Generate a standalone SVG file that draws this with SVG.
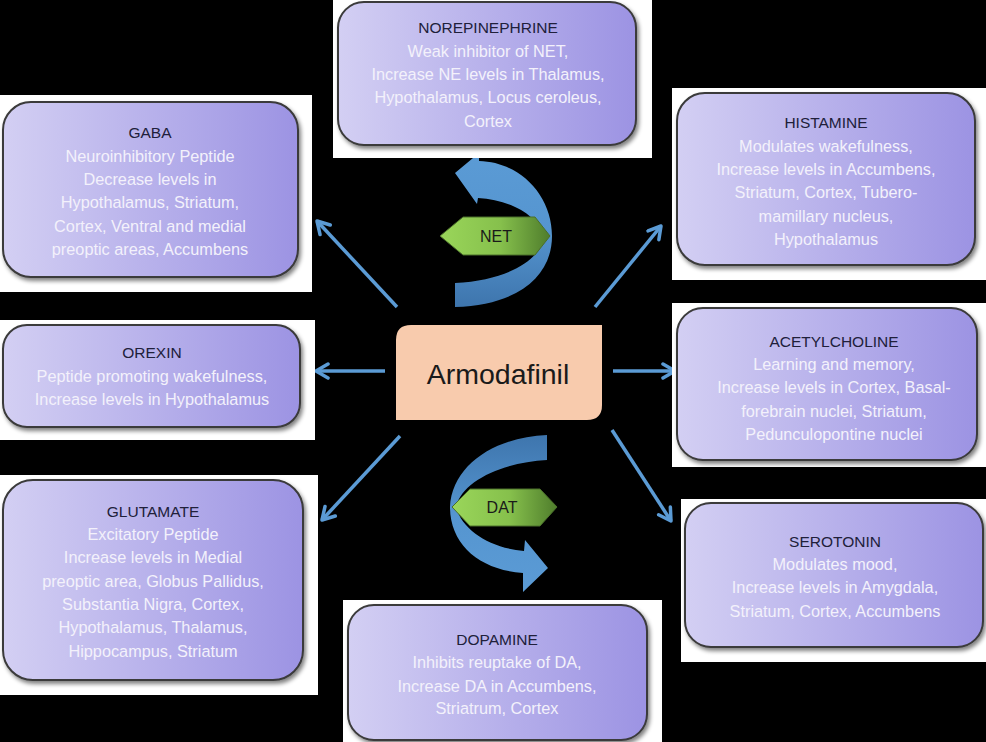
<svg xmlns="http://www.w3.org/2000/svg" width="986" height="742" viewBox="0 0 986 742">
<defs>
<style>
.bg{fill:#ffffff}
.box{fill:url(#boxg);stroke:#3a3a3a;stroke-width:2;filter:url(#sh)}
.t{font-family:"Liberation Sans",Arial,sans-serif;font-size:15.5px;fill:#20203a;text-anchor:middle}
.b{font-family:"Liberation Sans",Arial,sans-serif;font-size:16.3px;fill:#f3f1fb;text-anchor:middle}
.con{stroke:#5b9bd5;stroke-width:3.5;fill:none;marker-end:url(#ah)}
.tag{fill:url(#greeng);stroke:#4a6e2a;stroke-width:1}
.tagt{font-family:"Liberation Sans",Arial,sans-serif;font-size:16px;fill:#1a1a1a;text-anchor:middle}
</style>
<linearGradient id="boxg" x1="0" y1="0" x2="1" y2="0">
<stop offset="0" stop-color="#d3cff3"/>
<stop offset="1" stop-color="#9c93e3"/>
</linearGradient>
<linearGradient id="greeng" x1="0" y1="0" x2="1" y2="0">
<stop offset="0" stop-color="#9ad65a"/>
<stop offset="0.55" stop-color="#86c04c"/>
<stop offset="1" stop-color="#4f7d2c"/>
</linearGradient>
<linearGradient id="netg" x1="0" y1="0" x2="0" y2="1">
<stop offset="0" stop-color="#5b9bd5"/>
<stop offset="0.5" stop-color="#5595d0"/>
<stop offset="1" stop-color="#3e75ad"/>
</linearGradient>
<linearGradient id="datg" x1="0" y1="0" x2="0" y2="1">
<stop offset="0" stop-color="#3e75ad"/>
<stop offset="0.5" stop-color="#5595d0"/>
<stop offset="1" stop-color="#5b9bd5"/>
</linearGradient>
<filter id="sh" x="-5%" y="-5%" width="112%" height="118%">
<feGaussianBlur in="SourceAlpha" stdDeviation="2"/>
<feOffset dx="2" dy="3" result="o"/>
<feComponentTransfer><feFuncA type="linear" slope="0.5"/></feComponentTransfer>
<feMerge><feMergeNode/><feMergeNode in="SourceGraphic"/></feMerge>
</filter>
<marker id="ah" viewBox="0 0 18 18" refX="15" refY="9" markerWidth="18" markerHeight="18" markerUnits="userSpaceOnUse" orient="auto">
<path d="M3,2 L15,9 L3,16" fill="none" stroke="#5b9bd5" stroke-width="3.5" stroke-linecap="round" stroke-linejoin="round"/>
</marker>
</defs>
<rect x="0" y="0" width="986" height="742" fill="#000000"/>

<g id="connectors">
<line class="con" x1="397" y1="307" x2="317" y2="221"/>
<line class="con" x1="385" y1="371" x2="316" y2="371"/>
<line class="con" x1="400" y1="436" x2="322" y2="520"/>
<line class="con" x1="595" y1="307" x2="661" y2="226"/>
<line class="con" x1="613" y1="371" x2="675" y2="371"/>
<line class="con" x1="612" y1="430" x2="671" y2="521"/>
</g>

<g id="net-arrow">
<path d="M455,173 L479,153 L479,161 C520,162 552,195 552,236 C552,275 520,305 455,307 L455,283 C510,280 543,258 543,236 C538,215 510,200 478,198 L477,204 Z" fill="url(#netg)"/>
<polygon class="tag" points="440,236 463,217 535,217 550,236 535,255 463,255"/>
<text class="tagt" x="496" y="242">NET</text>
</g>

<g id="dat-arrow">
<path d="M547,435 L547,460 C505,462 462,480 456,507 C462,530 490,548 524,551 L525,540 L548,568 L523,592 L523,573 C480,570 450,545 450,507 C452,465 495,437 547,435 Z" fill="url(#datg)"/>
<polygon class="tag" points="452,507 470,489 540,489 557,507 540,526 470,526"/>
<text class="tagt" x="502" y="513">DAT</text>
</g>

<g id="armodafinil">
<path d="M411,325 H602 V405 Q602,420 587,420 H396 V340 Q396,325 411,325 Z" fill="#f8cbad"/>
<text x="498" y="384" font-family="Liberation Sans, Arial, sans-serif" font-size="28.5" fill="#1a1a1a" text-anchor="middle">Armodafinil</text>
</g>

<g id="norepinephrine">
<rect class="bg" x="333" y="0" width="319" height="158"/>
<rect class="box" x="338" y="2" width="298" height="143" rx="26"/>
<text class="t" x="488" y="33">NOREPINEPHRINE</text>
<text class="b" x="488" y="57">Weak inhibitor of NET,</text>
<text class="b" x="488" y="80">Increase NE levels in Thalamus,</text>
<text class="b" x="488" y="103">Hypothalamus, Locus ceroleus,</text>
<text class="b" x="488" y="127">Cortex</text>
</g>

<g id="gaba">
<rect class="bg" x="0" y="95" width="312" height="197"/>
<rect class="box" x="3" y="102" width="295" height="175" rx="28"/>
<text class="t" x="150" y="138">GABA</text>
<text class="b" x="150" y="162">Neuroinhibitory Peptide</text>
<text class="b" x="150" y="185">Decrease levels in</text>
<text class="b" x="150" y="208">Hypothalamus, Striatum,</text>
<text class="b" x="150" y="232">Cortex, Ventral and medial</text>
<text class="b" x="150" y="255">preoptic areas, Accumbens</text>
</g>

<g id="orexin">
<rect class="bg" x="0" y="320" width="315" height="120"/>
<rect class="box" x="3" y="325" width="297" height="102" rx="24"/>
<text class="t" x="152" y="358">OREXIN</text>
<text class="b" x="152" y="382">Peptide promoting wakefulness,</text>
<text class="b" x="152" y="405">Increase levels in Hypothalamus</text>
</g>

<g id="glutamate">
<rect class="bg" x="0" y="475" width="318" height="220"/>
<rect class="box" x="3" y="480" width="300" height="200" rx="30"/>
<text class="t" x="153" y="517">GLUTAMATE</text>
<text class="b" x="153" y="540">Excitatory Peptide</text>
<text class="b" x="153" y="563">Increase levels in Medial</text>
<text class="b" x="153" y="587">preoptic area, Globus Pallidus,</text>
<text class="b" x="153" y="610">Substantia Nigra, Cortex,</text>
<text class="b" x="153" y="633">Hypothalamus, Thalamus,</text>
<text class="b" x="153" y="657">Hippocampus, Striatum</text>
</g>

<g id="histamine">
<rect class="bg" x="672" y="88" width="314" height="192"/>
<rect class="box" x="677" y="93" width="298" height="172" rx="28"/>
<text class="t" x="826" y="128">HISTAMINE</text>
<text class="b" x="826" y="152">Modulates wakefulness,</text>
<text class="b" x="826" y="175">Increase levels in Accumbens,</text>
<text class="b" x="826" y="198">Striatum, Cortex, Tubero-</text>
<text class="b" x="826" y="222">mamillary nucleus,</text>
<text class="b" x="826" y="245">Hypothalamus</text>
</g>

<g id="acetylcholine">
<rect class="bg" x="672" y="303" width="314" height="164"/>
<rect class="box" x="677" y="308" width="300" height="152" rx="26"/>
<text class="t" x="834" y="347">ACETYLCHOLINE</text>
<text class="b" x="834" y="370">Learning and memory,</text>
<text class="b" x="834" y="393">Increase levels in Cortex, Basal-</text>
<text class="b" x="834" y="417">forebrain nuclei, Striatum,</text>
<text class="b" x="834" y="440">Pedunculopontine nuclei</text>
</g>

<g id="serotonin">
<rect class="bg" x="681" y="499" width="305" height="163"/>
<rect class="box" x="685" y="503" width="298" height="144" rx="26"/>
<text class="t" x="835" y="547">SEROTONIN</text>
<text class="b" x="835" y="570">Modulates mood,</text>
<text class="b" x="835" y="593">Increase levels in Amygdala,</text>
<text class="b" x="835" y="617">Striatum, Cortex, Accumbens</text>
</g>

<g id="dopamine">
<rect class="bg" x="343" y="600" width="319" height="142"/>
<rect class="box" x="348" y="605" width="299" height="135" rx="26"/>
<text class="t" x="497" y="645">DOPAMINE</text>
<text class="b" x="497" y="668">Inhibits reuptake of DA,</text>
<text class="b" x="497" y="692">Increase DA in Accumbens,</text>
<text class="b" x="497" y="714">Striatrum, Cortex</text>
</g>
</svg>
